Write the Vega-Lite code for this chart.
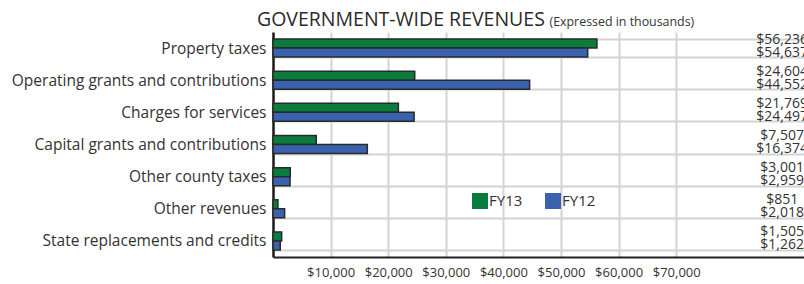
{
  "$schema": "https://vega.github.io/schema/vega-lite/v6.json",
  "width": 531,
  "height": 225,
  "autosize": "none",
  "padding": {"left": 273, "top": 32, "right": 0, "bottom": 27},
  "background": "white",
  "title": {
    "text": "GOVERNMENT-WIDE REVENUES",
    "anchor": "start",
    "frame": "group",
    "dx": -16,
    "offset": -30,
    "baseline": "alphabetic",
    "font": "Open Sans",
    "fontSize": 19.5,
    "fontWeight": "normal",
    "color": "#2b2b2b"
  },
  "config": {
    "view": {"stroke": null},
    "font": "Open Sans"
  },
  "data": {
    "values": [
      {"category": "Property taxes", "year": "FY13", "amount": 56236},
      {"category": "Property taxes", "year": "FY12", "amount": 54637},
      {"category": "Operating grants and contributions", "year": "FY13", "amount": 24604},
      {"category": "Operating grants and contributions", "year": "FY12", "amount": 44552},
      {"category": "Charges for services", "year": "FY13", "amount": 21769},
      {"category": "Charges for services", "year": "FY12", "amount": 24497},
      {"category": "Capital grants and contributions", "year": "FY13", "amount": 7507},
      {"category": "Capital grants and contributions", "year": "FY12", "amount": 16374},
      {"category": "Other county taxes", "year": "FY13", "amount": 3001},
      {"category": "Other county taxes", "year": "FY12", "amount": 2959},
      {"category": "Other revenues", "year": "FY13", "amount": 851},
      {"category": "Other revenues", "year": "FY12", "amount": 2018},
      {"category": "State replacements and credits", "year": "FY13", "amount": 1505},
      {"category": "State replacements and credits", "year": "FY12", "amount": 1262}
    ]
  },
  "encoding": {
    "y": {
      "field": "category",
      "type": "nominal",
      "sort": null,
      "scale": {"paddingInner": 0.44, "paddingOuter": 0.22},
      "axis": {
        "title": null,
        "ticks": false,
        "tickBand": "extent",
        "grid": true,
        "gridColor": "#d3d3d3",
        "gridWidth": 2,
        "domain": true,
        "domainColor": "#1a1a1a",
        "domainWidth": 2.5,
        "labelFont": "Open Sans",
        "labelFontSize": 15.5,
        "labelColor": "#333333",
        "labelPadding": 7,
        "labelLimit": 300
      }
    },
    "yOffset": {
      "field": "year",
      "type": "nominal",
      "sort": ["FY13", "FY12"],
      "scale": {"paddingInner": 0, "paddingOuter": 0}
    }
  },
  "layer": [
    {
      "mark": {"type": "bar", "stroke": "#2a2a2a", "strokeWidth": 1.5},
      "encoding": {
        "x": {
          "field": "amount",
          "type": "quantitative",
          "scale": {"domain": [0, 92187], "nice": false, "zero": true},
          "axis": {
            "title": null,
            "values": [10000, 20000, 30000, 40000, 50000, 60000, 70000],
            "format": "$,.0f",
            "ticks": false,
            "grid": true,
            "gridColor": "#d3d3d3",
            "gridWidth": 2,
            "domain": true,
            "domainColor": "#222222",
            "domainWidth": 2,
            "labelFont": "Open Sans",
            "labelFontSize": 13,
            "labelColor": "#333333",
            "labelPadding": 9,
            "labelDx": -7
          }
        },
        "color": {
          "field": "year",
          "type": "nominal",
          "sort": ["FY13", "FY12"],
          "scale": {"domain": ["FY13", "FY12"], "range": ["#0a7d3c", "#3b62ae"]},
          "legend": {
            "title": null,
            "orient": "none",
            "legendX": 199,
            "legendY": 161,
            "direction": "horizontal",
            "symbolType": "square",
            "symbolSize": 256,
            "symbolStrokeWidth": 0,
            "symbolOpacity": 1,
            "labelFont": "Open Sans",
            "labelFontSize": 15,
            "labelColor": "#333333",
            "labelOffset": 1,
            "columnPadding": 22
          }
        }
      }
    },
    {
      "transform": [{"filter": "datum.year === 'FY13'"}],
      "mark": {"type": "text", "align": "center", "baseline": "middle", "dy": -4, "fontSize": 14, "font": "Open Sans", "color": "#333333"},
      "encoding": {
        "x": {"datum": 88400, "type": "quantitative", "axis": null},
        "text": {"field": "amount", "type": "quantitative", "format": "$,.0f"}
      }
    },
    {
      "transform": [{"filter": "datum.year === 'FY12'"}],
      "mark": {"type": "text", "align": "center", "baseline": "middle", "dy": 0, "fontSize": 14, "font": "Open Sans", "color": "#333333"},
      "encoding": {
        "x": {
          "datum": 88400,
          "type": "quantitative",
          "axis": {
            "orient": "top",
            "labels": false,
            "ticks": false,
            "domain": false,
            "grid": false,
            "title": "(Expressed in thousands)",
            "titleFont": "Open Sans",
            "titleFontSize": 12.4,
            "titleFontWeight": "normal",
            "titleColor": "#333333",
            "titleAnchor": "start",
            "titleAlign": "left",
            "titleBaseline": "alphabetic",
            "titleX": 276,
            "titleY": -7
          }
        },
        "text": {"field": "amount", "type": "quantitative", "format": "$,.0f"}
      }
    }
  ],
  "resolve": {"axis": {"x": "independent"}}
}
